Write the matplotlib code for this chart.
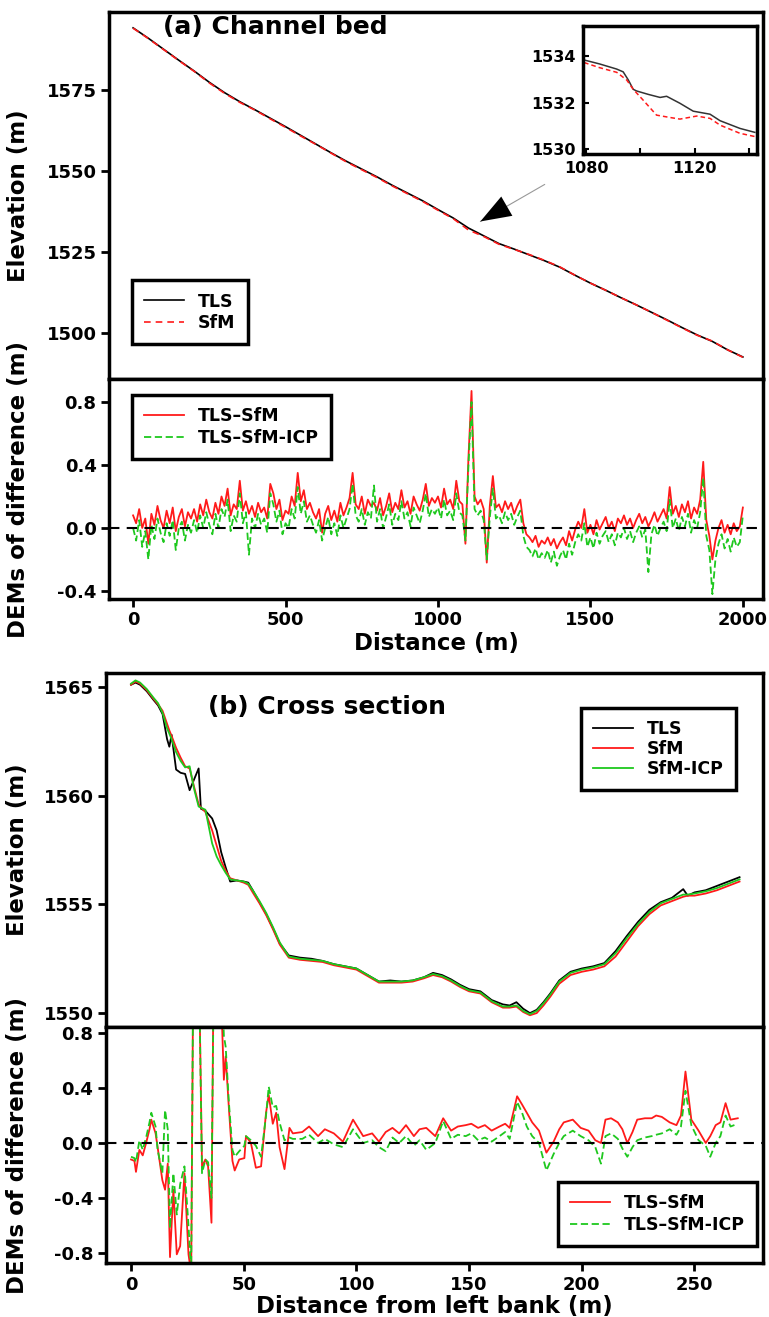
import matplotlib
matplotlib.use("Agg")
import matplotlib.pyplot as plt
from matplotlib.ticker import FixedLocator, FixedFormatter

plt.rcParams["font.family"] = ["DejaVu Sans"]
plt.rcParams["font.weight"] = "bold"
plt.rcParams["axes.unicode_minus"] = False
plt.rcParams["axes.linewidth"] = 2.5

# ---- (a) channel bed long profile, every 50 m
prof_x = list(range(0, 2001, 50))
prof_tls = [1594.2, 1591.0, 1587.6, 1584.2, 1580.9, 1577.4, 1574.2, 1571.4, 1568.9, 1566.3,
            1563.7, 1561.0, 1558.3, 1555.6, 1553.0, 1550.6, 1548.2, 1545.6, 1543.2, 1540.8,
            1538.1, 1535.5, 1532.4, 1530.0, 1527.6, 1525.9, 1524.1, 1522.3, 1520.3, 1517.8,
            1515.4, 1513.2, 1510.9, 1508.7, 1506.4, 1504.1, 1501.7, 1499.4, 1497.4, 1494.8,
            1492.6]
prof_sfm = [1594.1, 1590.9, 1587.5, 1584.1, 1580.8, 1577.2, 1574.0, 1571.2, 1568.8, 1566.1,
            1563.5, 1560.8, 1558.2, 1555.5, 1552.8, 1550.4, 1548.0, 1545.4, 1543.0, 1540.6,
            1537.9, 1535.3, 1531.8, 1529.8, 1527.4, 1525.8, 1524.2, 1522.4, 1520.4, 1517.8,
            1515.4, 1513.2, 1510.9, 1508.7, 1506.4, 1504.0, 1501.6, 1499.3, 1497.5, 1494.8,
            1492.5]

# inset detail 1080-1143 m
inset_x_tls = [1079.3, 1085.0, 1091.3, 1093.7, 1095.6, 1097.4, 1098.6, 1103.0, 1107.3, 1109.7,
               1114.6, 1119.5, 1125.7, 1129.4, 1136.7, 1142.2]
inset_tls = [1533.83, 1533.66, 1533.44, 1533.32, 1532.97, 1532.57, 1532.50, 1532.35, 1532.22,
             1532.27, 1531.97, 1531.63, 1531.50, 1531.22, 1530.89, 1530.72]
inset_x_sfm = [1079.3, 1085.0, 1091.3, 1095.0, 1097.4, 1101.1, 1106.0, 1110.9, 1114.6, 1120.8,
               1125.7, 1129.4, 1136.7, 1142.2]
inset_sfm = [1533.72, 1533.50, 1533.30, 1532.97, 1532.57, 1532.10, 1531.46, 1531.36, 1531.29,
             1531.42, 1531.32, 1531.03, 1530.68, 1530.54]

# DEMs of difference along channel, every 10 m
diff_a_x = list(range(0, 2001, 10))
diff_a_sfm = [
    0.08, 0.03, 0.12, 0.00, 0.06, -0.10, 0.09, 0.02, 0.14, 0.05, 0.00, 0.11, 0.03, 0.13, -0.02, 0.07, 0.12, 0.01, 0.10, 0.06,
    0.12, 0.04, 0.15, 0.08, 0.18, 0.10, 0.06, 0.16, 0.09, 0.20, 0.14, 0.25, 0.08, 0.15, 0.12, 0.30, 0.11, 0.17, 0.09, 0.14,
    0.07, 0.16, 0.10, 0.13, 0.06, 0.28, 0.22, 0.12, 0.18, 0.05, 0.11, 0.09, 0.20, 0.14, 0.35, 0.17, 0.24, 0.12, 0.16, 0.10,
    0.06, 0.12, -0.03, 0.09, 0.14, 0.05, 0.11, 0.04, 0.16, 0.08, 0.13, 0.19, 0.35, 0.15, 0.12, 0.20, 0.09, 0.18, 0.14, 0.16,
    0.11, 0.19, 0.08, 0.14, 0.22, 0.10, 0.16, 0.12, 0.24, 0.13, 0.17, 0.09, 0.20, 0.15, 0.11, 0.18, 0.28, 0.14, 0.19, 0.16,
    0.20, 0.13, 0.25, 0.15, 0.18, 0.12, 0.30, 0.17, 0.15, -0.10, 0.45, 0.87, 0.20, 0.15, 0.18, 0.12, -0.22, 0.14, 0.33, 0.13,
    0.15, 0.10, 0.17, 0.12, 0.16, 0.09, 0.14, 0.18, 0.03, -0.04, -0.06, -0.09, -0.05, -0.12, -0.08, -0.10, -0.06, -0.11, -0.07, -0.13,
    -0.09, -0.06, -0.11, -0.02, -0.08, -0.01, 0.04, 0.00, 0.12, -0.03, 0.02, -0.04, 0.05, -0.01, 0.03, 0.07, 0.00, 0.04, -0.02, 0.06,
    0.03, 0.08, 0.02, 0.06, 0.00, 0.05, 0.09, 0.03, 0.07, 0.01, 0.05, 0.10, 0.04, 0.08, 0.12, 0.06, 0.26, 0.09, 0.14, 0.07,
    0.15, 0.10, 0.17, 0.06, 0.13, 0.09, 0.18, 0.42, 0.05, -0.05, -0.20, -0.08, 0.00, 0.05, -0.03, 0.02, -0.04, 0.03, -0.02, 0.01,
    0.13]
diff_a_icp = [
    0.00, -0.08, 0.05, -0.12, -0.02, -0.20, 0.02, -0.07, 0.06, -0.03, -0.09, 0.03, -0.05, 0.05, -0.14, 0.00, 0.04, -0.08, 0.02, -0.03,
    0.05, -0.03, 0.08, 0.00, 0.10, 0.02, -0.04, 0.09, 0.00, 0.12, 0.07, 0.18, -0.02, 0.08, 0.04, 0.22, 0.03, 0.10, -0.17, 0.06,
    0.00, 0.09, 0.02, 0.06, -0.03, 0.22, 0.15, 0.04, 0.11, -0.04, 0.03, 0.00, 0.12, 0.06, 0.26, 0.09, 0.17, 0.04, 0.08, 0.02,
    -0.03, 0.05, -0.08, 0.00, 0.07, -0.04, 0.03, -0.05, 0.08, 0.00, 0.06, 0.12, 0.28, 0.08, 0.04, 0.12, 0.02, 0.10, 0.06, 0.27,
    0.04, 0.12, 0.00, 0.07, 0.15, 0.02, 0.09, 0.05, 0.17, 0.06, 0.10, 0.01, 0.13, 0.08, 0.03, 0.11, 0.22, 0.07, 0.12, 0.09,
    0.13, 0.06, 0.18, 0.08, 0.11, 0.05, 0.22, 0.10, 0.08, -0.08, 0.40, 0.80, 0.12, 0.08, 0.11, 0.05, -0.20, 0.07, 0.25, 0.06,
    0.08, 0.03, 0.10, 0.05, 0.09, 0.02, 0.07, 0.11, -0.05, -0.12, -0.14, -0.18, -0.13, -0.20, -0.16, -0.19, -0.14, -0.22, -0.15, -0.24,
    -0.18, -0.14, -0.20, -0.10, -0.17, -0.09, -0.04, -0.08, 0.03, -0.12, -0.06, -0.13, -0.03, -0.10, -0.05, -0.02, -0.09, -0.04, -0.11, -0.03,
    -0.06, 0.00, -0.07, -0.02, -0.09, -0.03, 0.01, -0.06, -0.01, -0.28, -0.04, 0.02, -0.05, 0.00, 0.04, -0.02, 0.18, 0.00, 0.06, -0.02,
    0.07, 0.01, 0.09, -0.03, 0.05, 0.00, 0.10, 0.32, -0.05, -0.14, -0.42, -0.20, -0.10, -0.04, -0.13, -0.07, -0.15, -0.06, -0.12, -0.09,
    0.08]

# ---- (b) cross section
xs_x = [0, 2, 4, 7, 10, 12, 14, 16, 17, 18, 20, 22, 24, 26, 28, 30, 31, 33, 36, 38,
        40, 42, 44, 47, 50, 52, 54, 57, 60, 63, 66, 70, 75, 80, 85, 90, 95, 100, 105, 110,
        115, 120, 125, 130, 134, 138, 142, 146, 150, 155, 160, 165, 168, 171, 174, 177, 180, 183, 186, 190,
        195, 200, 205, 210, 215, 220, 225, 230, 235, 240, 245, 247, 250, 255, 260, 265, 270]
xs_tls = [1565.10, 1565.20, 1565.10, 1564.80, 1564.40, 1564.15, 1563.75, 1562.60, 1562.25, 1562.80,
          1561.20, 1561.05, 1561.00, 1560.25, 1560.75, 1561.25, 1559.40, 1559.30, 1558.95, 1558.40,
          1557.40, 1556.70, 1556.05, 1556.10, 1556.05, 1556.00, 1555.65, 1555.10, 1554.55, 1553.90,
          1553.20, 1552.65, 1552.55, 1552.50, 1552.40, 1552.25, 1552.15, 1552.05, 1551.75, 1551.45,
          1551.50, 1551.45, 1551.50, 1551.65, 1551.85, 1551.75, 1551.55, 1551.30, 1551.10, 1551.00,
          1550.60, 1550.40, 1550.35, 1550.50, 1550.20, 1550.00, 1550.15, 1550.50, 1550.90, 1551.50,
          1551.90, 1552.05, 1552.15, 1552.30, 1552.85, 1553.55, 1554.20, 1554.75, 1555.10, 1555.30,
          1555.70, 1555.40, 1555.55, 1555.65, 1555.85, 1556.05, 1556.25]
xs_sfm = [1565.10, 1565.25, 1565.15, 1564.85, 1564.45, 1564.20, 1563.90, 1563.30, 1563.00, 1562.75,
          1562.20, 1561.75, 1561.35, 1561.25, 1560.40, 1559.60, 1559.45, 1559.25, 1558.40, 1557.70,
          1557.00, 1556.55, 1556.20, 1556.10, 1556.00, 1555.90, 1555.55, 1555.05, 1554.50, 1553.85,
          1553.15, 1552.55, 1552.45, 1552.40, 1552.35, 1552.20, 1552.10, 1552.00, 1551.70, 1551.40,
          1551.40, 1551.40, 1551.45, 1551.60, 1551.75, 1551.65, 1551.45, 1551.20, 1551.00, 1550.90,
          1550.50, 1550.25, 1550.25, 1550.30, 1550.05, 1549.90, 1550.00, 1550.35, 1550.75, 1551.35,
          1551.75, 1551.90, 1552.00, 1552.15, 1552.60, 1553.30, 1554.00, 1554.55, 1554.95, 1555.15,
          1555.35, 1555.40, 1555.40, 1555.50, 1555.65, 1555.85, 1556.05]
xs_icp = [1565.15, 1565.30, 1565.20, 1564.90, 1564.50, 1564.25, 1563.80, 1563.10, 1562.85, 1562.60,
          1562.00, 1561.60, 1561.30, 1561.35, 1560.30, 1559.50, 1559.45, 1559.35, 1557.80, 1557.20,
          1556.80, 1556.45, 1556.15, 1556.10, 1556.05, 1555.95, 1555.65, 1555.15, 1554.60, 1553.95,
          1553.25, 1552.60, 1552.50, 1552.45, 1552.40, 1552.25, 1552.15, 1552.05, 1551.75, 1551.45,
          1551.45, 1551.45, 1551.50, 1551.65, 1551.80, 1551.70, 1551.50, 1551.25, 1551.05, 1550.95,
          1550.55, 1550.30, 1550.30, 1550.35, 1550.10, 1549.95, 1550.10, 1550.45, 1550.85, 1551.45,
          1551.85, 1552.00, 1552.10, 1552.25, 1552.75, 1553.45, 1554.10, 1554.65, 1555.05, 1555.25,
          1555.45, 1555.45, 1555.50, 1555.60, 1555.75, 1555.95, 1556.15]

diff_b_x = [0, 1.5, 2.2, 3.7, 5.2, 6.7, 8.2, 9, 10.9, 11.8, 13.9, 15.1, 16.3, 17.3, 18.8, 20.3, 21.8, 23.7,
            25.5, 26.7, 27.7, 29.5, 31.5, 33, 34.2, 35.7, 36.7, 38, 39.7, 41.2, 42, 43.4, 45, 46, 48, 50.3,
            51, 53.2, 55.4, 57.7, 59.9, 61.1, 62.9, 64.4, 65.9, 68.1, 70.3, 71.8, 76, 79, 83, 86, 90, 94,
            98.5, 103, 107, 110, 113, 116, 119, 122, 125.5, 128, 131, 135, 138.5, 142, 145, 148.5, 151, 154,
            157, 160, 163.5, 166, 168, 171.3, 173.5, 175.6, 178, 181, 184.3, 187.5, 190, 192, 196, 199.5,
            203, 206, 208.5, 210.5, 213, 216, 218, 220.2, 222.5, 224.6, 228, 231, 233, 235.5, 239, 242,
            244, 246, 248.6, 251.8, 255, 257, 259.4, 261.5, 263.8, 266, 269.2]
diff_b_sfm = [-0.12, -0.13, -0.21, -0.05, -0.09, 0.00, 0.10, 0.17, 0.07, -0.03, -0.27, -0.34, -0.15, -0.83, -0.34, -0.81, -0.75, -0.22,
              -0.81, -0.95, 1.50, 2.00, -0.17, -0.12, -0.17, -0.58, 1.40, 2.00, 1.20, 0.46, 0.63, 0.26, -0.13, -0.20, -0.12, -0.11,
              0.05, 0.00, -0.18, -0.17, 0.22, 0.35, 0.14, 0.22, -0.03, -0.19, 0.11, 0.07, 0.08, 0.12, 0.05, 0.10, 0.07, 0.01,
              0.17, 0.05, 0.07, 0.01, 0.08, 0.11, 0.07, 0.13, 0.05, 0.10, 0.11, 0.05, 0.18, 0.09, 0.12, 0.13, 0.14, 0.11,
              0.13, 0.09, 0.12, 0.14, 0.11, 0.34, 0.28, 0.22, 0.15, 0.09, -0.07, 0.01, 0.10, 0.15, 0.17, 0.11,
              0.09, 0.02, 0.00, 0.17, 0.18, 0.15, 0.10, 0.00, 0.08, 0.17, 0.18, 0.18, 0.20, 0.19, 0.15, 0.13,
              0.20, 0.52, 0.17, 0.09, 0.00, 0.05, 0.13, 0.15, 0.29, 0.17, 0.18]
diff_b_icp = [-0.10, -0.11, -0.14, 0.02, -0.05, 0.04, 0.15, 0.22, 0.12, -0.05, -0.22, 0.24, 0.10, -0.62, -0.22, -0.52, -0.30, -0.17,
              -0.60, -0.95, 1.50, 2.00, -0.22, -0.12, -0.14, -0.40, 1.20, 2.00, 1.50, 0.78, 0.70, 0.30, -0.05, -0.10, -0.06, -0.02,
              0.05, 0.02, -0.02, -0.10, 0.20, 0.41, 0.26, 0.27, 0.15, 0.02, 0.04, 0.03, 0.03, 0.06, 0.00, 0.03, -0.01, -0.03,
              0.10, 0.00, 0.02, -0.03, -0.06, 0.04, 0.00, 0.05, -0.02, 0.02, -0.05, 0.00, 0.16, 0.03, 0.06, 0.05, 0.07, 0.02,
              0.04, 0.01, 0.05, 0.08, 0.03, 0.30, 0.22, 0.12, 0.05, 0.00, -0.20, -0.08, 0.00, 0.05, 0.09, 0.05,
              0.02, -0.03, -0.15, 0.05, 0.07, 0.03, -0.04, -0.10, -0.03, 0.02, 0.04, 0.05, 0.06, 0.07, 0.10, 0.06,
              0.12, 0.38, 0.13, 0.02, -0.02, -0.10, 0.00, 0.05, 0.20, 0.12, 0.14]

RED = "#ff1a1a"
GREEN = "#1ec81e"
TICK_FS = 13
LAB_FS = 16.5

fig = plt.figure(figsize=(7.69, 13.17), dpi=100)
W, H = 769, 1317


def px_axes(x0, y0, x1, y1):
    return fig.add_axes([x0 / W, 1 - y1 / H, (x1 - x0) / W, (y1 - y0) / H])


def style(ax, bottom=True):
    ax.tick_params(direction="out", length=6, width=2, labelsize=TICK_FS, pad=3)
    if not bottom:
        ax.tick_params(axis="x", bottom=False, labelbottom=False)
    for lab in ax.get_xticklabels() + ax.get_yticklabels():
        lab.set_fontweight("bold")


def legend(ax, **kw):
    leg = ax.legend(frameon=True, fancybox=False, framealpha=1, edgecolor="black",
                    prop={"size": 12.5, "weight": "bold"}, borderaxespad=0, **kw)
    leg.get_frame().set_linewidth(2.5)
    return leg


ax1 = px_axes(109, 12, 763, 379)
ax2 = px_axes(109, 379, 763, 599)
ax3 = px_axes(106, 673, 763, 1027)
ax4 = px_axes(106, 1027, 763, 1263)
axin = px_axes(583, 26, 757, 154)

# (a) top
ax1.plot(prof_x, prof_tls, color="black", lw=1.2, label="TLS")
ax1.plot(prof_x, prof_sfm, color=RED, lw=1.2, ls=(0, (4, 3)), label="SfM")
ax1.set_xlim(-79, 2066)
ax1.set_ylim(1485.8, 1599.1)
ax1.set_yticks([1500, 1525, 1550, 1575])
style(ax1, bottom=False)
ax1.set_ylabel("Elevation (m)", fontsize=LAB_FS, fontweight="bold")
ax1.yaxis.set_label_coords(-0.121, 0.5)
ax1.text(0.083, 0.959, "(a) Channel bed", transform=ax1.transAxes, fontsize=18,
         fontweight="bold", va="center", ha="left")
legend(ax1, loc="lower left", bbox_to_anchor=(0.035, 0.095), handlelength=2.3,
       labelspacing=0.2, borderpad=0.7)
# pointer from the inset to the zoomed stretch
ax1.annotate("", xy=(1131, 1534.0), xytext=(1358, 1546.3),
             arrowprops=dict(arrowstyle="-", color="#999999", lw=0.8))
ax1.annotate("", xy=(1131, 1534.0), xytext=(1267, 1541.4),
             arrowprops=dict(arrowstyle="-|>,head_length=2.2,head_width=0.8",
                             color="black", lw=0.01))

# inset
axin.plot(inset_x_tls, inset_tls, color="#333333", lw=1.1)
axin.plot(inset_x_sfm, inset_sfm, color=RED, lw=1.1, ls=(0, (3, 2)))
axin.set_xlim(1078.9, 1143)
axin.set_ylim(1529.79, 1535.29)
axin.xaxis.set_major_locator(FixedLocator([1080, 1100, 1120, 1140]))
axin.xaxis.set_major_formatter(FixedFormatter(["1080", "", "1120", ""]))
axin.set_yticks([1530, 1532, 1534])
axin.tick_params(direction="in", length=4, width=1.5, labelsize=11.5, pad=5)
for lab in axin.get_xticklabels() + axin.get_yticklabels():
    lab.set_fontweight("bold")

# (a) bottom
ax2.plot(diff_a_x, diff_a_sfm, color=RED, lw=1.3, label="TLS\u2013SfM")
ax2.plot(diff_a_x, diff_a_icp, color=GREEN, lw=1.3, ls=(0, (4, 2)), label="TLS\u2013SfM-ICP")
ax2.axhline(0, color="black", lw=1.5, ls=(0, (5, 3.5)))
ax2.set_xlim(-79, 2066)
ax2.set_ylim(-0.451, 0.946)
ax2.set_yticks([-0.4, 0.0, 0.4, 0.8])
ax2.set_yticklabels(["-0.4", "0.0", "0.4", "0.8"])
ax2.set_xticks([0, 500, 1000, 1500, 2000])
style(ax2)
ax2.set_ylabel("DEMs of difference (m)", fontsize=LAB_FS, fontweight="bold")
ax2.yaxis.set_label_coords(-0.121, 0.5)
ax2.set_xlabel("Distance (m)", fontsize=LAB_FS, fontweight="bold", labelpad=2)
legend(ax2, loc="upper left", bbox_to_anchor=(0.035, 0.927), handlelength=2.3,
       labelspacing=0.2, borderpad=0.7)

# (b) top
ax3.plot(xs_x, xs_tls, color="black", lw=1.3, label="TLS")
ax3.plot(xs_x, xs_sfm, color=RED, lw=1.3, label="SfM")
ax3.plot(xs_x, xs_icp, color=GREEN, lw=1.3, label="SfM-ICP")
ax3.set_xlim(-11.1, 280.4)
ax3.set_ylim(1549.36, 1565.64)
ax3.set_yticks([1550, 1555, 1560, 1565])
style(ax3, bottom=False)
ax3.set_ylabel("Elevation (m)", fontsize=LAB_FS, fontweight="bold")
ax3.yaxis.set_label_coords(-0.117, 0.5)
ax3.text(0.155, 0.904, "(b) Cross section", transform=ax3.transAxes, fontsize=18,
         fontweight="bold", va="center", ha="left")
legend(ax3, loc="upper left", bbox_to_anchor=(0.723, 0.901), handlelength=2.3,
       labelspacing=0.1, borderpad=0.7)

# (b) bottom
ax4.plot(diff_b_x, diff_b_sfm, color=RED, lw=1.3, label="TLS\u2013SfM")
ax4.plot(diff_b_x, diff_b_icp, color=GREEN, lw=1.3, ls=(0, (4, 2)), label="TLS\u2013SfM-ICP")
ax4.axhline(0, color="black", lw=1.5, ls=(0, (5, 3.5)))
ax4.set_xlim(-11.1, 280.4)
ax4.set_ylim(-0.873, 0.844)
ax4.set_yticks([-0.8, -0.4, 0.0, 0.4, 0.8])
ax4.set_yticklabels(["-0.8", "-0.4", "0.0", "0.4", "0.8"])
ax4.set_xticks([0, 50, 100, 150, 200, 250])
style(ax4)
ax4.set_ylabel("DEMs of difference (m)", fontsize=LAB_FS, fontweight="bold")
ax4.yaxis.set_label_coords(-0.117, 0.5)
ax4.set_xlabel("Distance from left bank (m)", fontsize=LAB_FS, fontweight="bold", labelpad=1)
legend(ax4, loc="lower left", bbox_to_anchor=(0.688, 0.072), handlelength=2.3,
       labelspacing=0.2, borderpad=0.7)

fig.savefig("out.png", dpi=100)
